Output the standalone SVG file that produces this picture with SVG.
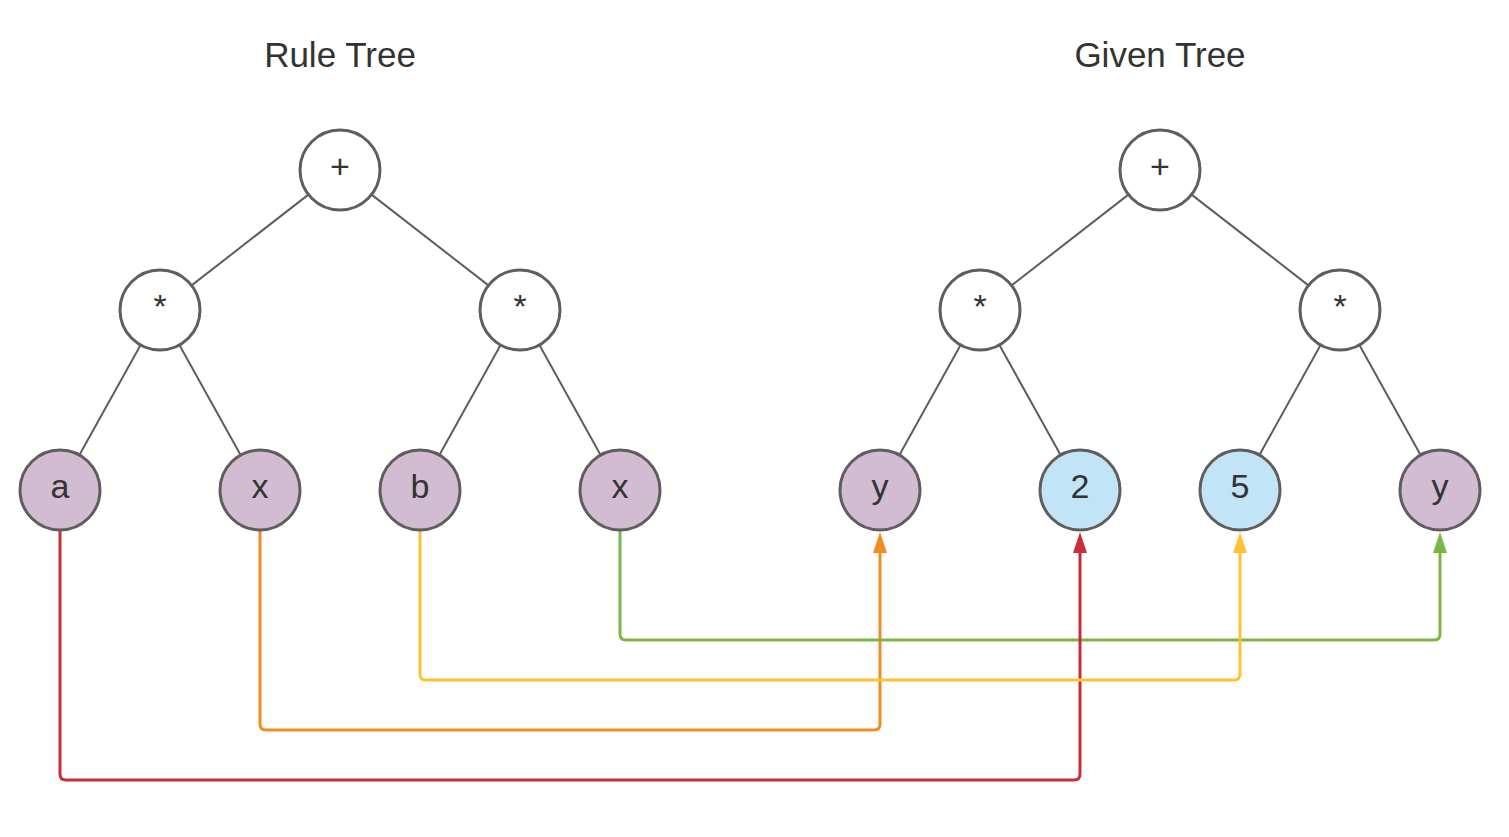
<svg xmlns="http://www.w3.org/2000/svg" width="1509" height="837" viewBox="0 0 1509 837">
<defs>
<style>
.title{font-family:"Liberation Sans",Arial,sans-serif;font-size:35px;fill:#333333;text-anchor:middle}
.lbl{font-family:"Liberation Sans",Arial,sans-serif;font-size:34px;fill:#333333;text-anchor:middle}
.n{stroke:#5E5E5E;stroke-width:3;fill:#FFFFFF}
.p{fill:#D1BCD2}
.b{fill:#C1E4F7}
.e{stroke:#5E5E5E;stroke-width:2;fill:none}
.c{fill:none;stroke-width:3;stroke-linejoin:round}
</style>
<marker id="mr" viewBox="0 0 21 14" refX="8" refY="7" markerWidth="21" markerHeight="14" markerUnits="userSpaceOnUse" orient="auto"><path d="M0,0 L21,7 L0,14 Z" fill="#C92D39"/></marker>
<marker id="mo" viewBox="0 0 21 14" refX="8" refY="7" markerWidth="21" markerHeight="14" markerUnits="userSpaceOnUse" orient="auto"><path d="M0,0 L21,7 L0,14 Z" fill="#EF8D22"/></marker>
<marker id="my" viewBox="0 0 21 14" refX="8" refY="7" markerWidth="21" markerHeight="14" markerUnits="userSpaceOnUse" orient="auto"><path d="M0,0 L21,7 L0,14 Z" fill="#FFC234"/></marker>
<marker id="mg" viewBox="0 0 21 14" refX="8" refY="7" markerWidth="21" markerHeight="14" markerUnits="userSpaceOnUse" orient="auto"><path d="M0,0 L21,7 L0,14 Z" fill="#7AB648"/></marker>
</defs>
<rect width="1509" height="837" fill="#FFFFFF"/>
<text class="title" x="340" y="67">Rule Tree</text>
<text class="title" x="1160" y="67">Given Tree</text>
<g id="tree-edges">
<line class="e" x1="308.4" y1="194.6" x2="191.6" y2="285.4"/>
<line class="e" x1="371.6" y1="194.6" x2="488.4" y2="285.4"/>
<line class="e" x1="140.6" y1="345" x2="79.4" y2="455"/>
<line class="e" x1="179.4" y1="345" x2="240.6" y2="455"/>
<line class="e" x1="500.6" y1="345" x2="439.4" y2="455"/>
<line class="e" x1="539.4" y1="345" x2="600.6" y2="455"/>
<line class="e" x1="1128.4" y1="194.6" x2="1011.6" y2="285.4"/>
<line class="e" x1="1191.6" y1="194.6" x2="1308.4" y2="285.4"/>
<line class="e" x1="960.6" y1="345" x2="899.4" y2="455"/>
<line class="e" x1="999.4" y1="345" x2="1060.6" y2="455"/>
<line class="e" x1="1320.6" y1="345" x2="1259.4" y2="455"/>
<line class="e" x1="1359.4" y1="345" x2="1420.6" y2="455"/>
</g>
<g id="connectors">
<path class="c" stroke="#EF8D22" d="M260,531 V724 Q260,730 266,730 H874 Q880,730 880,724 V545" marker-end="url(#mo)"/>
<path class="c" stroke="#7AB648" d="M620,531 V634 Q620,640 626,640 H1434 Q1440,640 1440,634 V545" marker-end="url(#mg)"/>
<path class="c" stroke="#C92D39" d="M60,531 V774 Q60,780 66,780 H1074 Q1080,780 1080,774 V545" marker-end="url(#mr)"/>
<path class="c" stroke="#FFC234" d="M420,531 V674 Q420,680 426,680 H1234 Q1240,680 1240,674 V545" marker-end="url(#my)"/>
</g>
<g id="rule-root"><circle class="n" cx="340" cy="170" r="40"/><text class="lbl" x="340" y="178">+</text></g>
<g id="rule-mul-left"><circle class="n" cx="160" cy="310" r="40"/><text class="lbl" x="160" y="318">*</text></g>
<g id="rule-mul-right"><circle class="n" cx="520" cy="310" r="40"/><text class="lbl" x="520" y="318">*</text></g>
<g id="rule-a"><circle class="n p" cx="60" cy="490" r="40"/><text class="lbl" x="60" y="498">a</text></g>
<g id="rule-x1"><circle class="n p" cx="260" cy="490" r="40"/><text class="lbl" x="260" y="498">x</text></g>
<g id="rule-b"><circle class="n p" cx="420" cy="490" r="40"/><text class="lbl" x="420" y="498">b</text></g>
<g id="rule-x2"><circle class="n p" cx="620" cy="490" r="40"/><text class="lbl" x="620" y="498">x</text></g>
<g id="given-root"><circle class="n" cx="1160" cy="170" r="40"/><text class="lbl" x="1160" y="178">+</text></g>
<g id="given-mul-left"><circle class="n" cx="980" cy="310" r="40"/><text class="lbl" x="980" y="318">*</text></g>
<g id="given-mul-right"><circle class="n" cx="1340" cy="310" r="40"/><text class="lbl" x="1340" y="318">*</text></g>
<g id="given-y1"><circle class="n p" cx="880" cy="490" r="40"/><text class="lbl" x="880" y="498">y</text></g>
<g id="given-2"><circle class="n b" cx="1080" cy="490" r="40"/><text class="lbl" x="1080" y="498">2</text></g>
<g id="given-5"><circle class="n b" cx="1240" cy="490" r="40"/><text class="lbl" x="1240" y="498">5</text></g>
<g id="given-y2"><circle class="n p" cx="1440" cy="490" r="40"/><text class="lbl" x="1440" y="498">y</text></g>
</svg>
